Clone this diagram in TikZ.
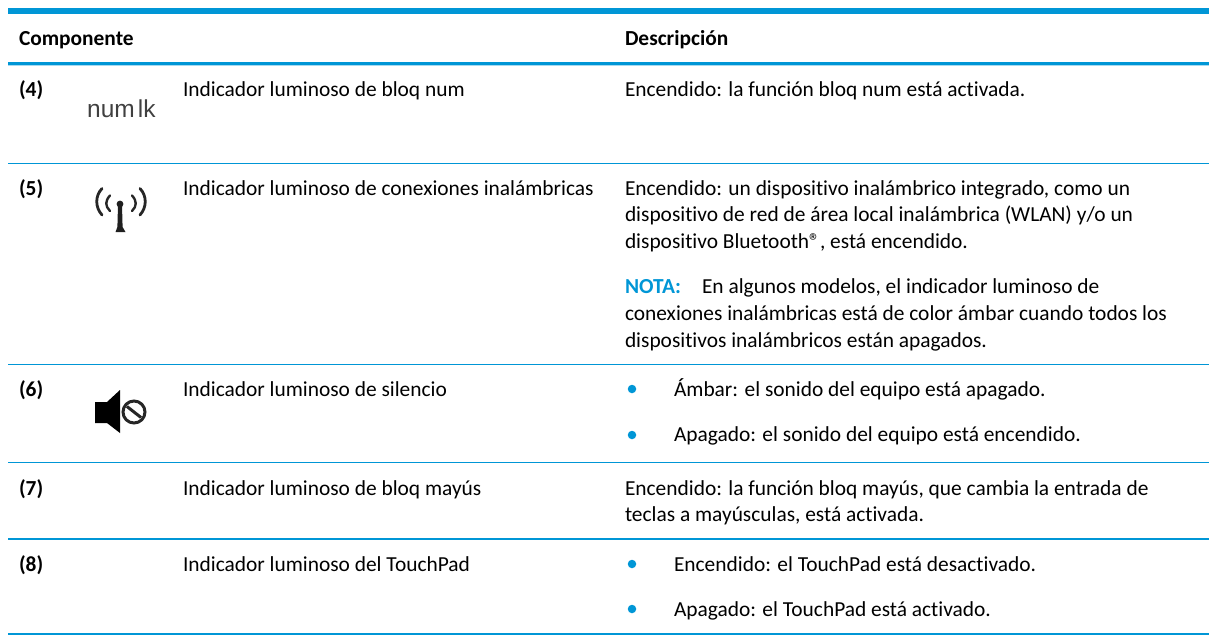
\documentclass[tikz,border=0pt]{standalone}
\usepackage{fontspec}
\setmainfont[Ligatures={NoCommon}]{Carlito}
\newfontfamily\iconfont{Liberation Sans}
\definecolor{hpblue}{HTML}{0096D6}
\tikzset{
  txt/.style={anchor=base west,inner sep=0pt,outer sep=0pt,font=\fontsize{21.4}{26.3}\selectfont,text=black},
  boldt/.style={anchor=base west,inner sep=0pt,outer sep=0pt,font=\fontsize{21.4}{26.3}\selectfont\bfseries,text=black},
  rule/.style={draw=hpblue,line width=1.2pt},
  bul/.style={circle,fill=hpblue,inner sep=0pt,minimum size=8.5pt},
  icoarc/.style={draw=black!85,line cap=round},
}
\begin{document}
\begin{tikzpicture}[x=1pt,y=-1pt]
\useasboundingbox (0,0) rectangle (1209,635);
\fill[hpblue] (8,8) rectangle (1209,14);
\fill[hpblue] (8,62) rectangle (1209,65);
\fill[hpblue!35] (8,65) rectangle (1209,66);
\draw[rule] (8,163.4) -- (1209,163.4);
\draw[rule] (8,364.4) -- (1209,364.4);
\draw[rule] (8,462.8) -- (1209,462.8);
\draw[rule] (8,539) -- (1209,539);
\draw[rule] (8,634) -- (1209,634);
\node[boldt] (hc) at (19,45) {Componente};
\node[boldt] (hd) at (625,45) {Descripción};
\node[boldt] (n4) at (19,96) {(4)};
\node[boldt] (n5) at (19,195) {(5)};
\node[boldt] (n6) at (19,396) {(6)};
\node[boldt] (n7) at (19,495) {(7)};
\node[boldt] (n8) at (19,571) {(8)};
\node[txt] (c4) at (183,96) {Indicador luminoso de bloq num};
\node[txt] (c5) at (183,195) {Indicador luminoso de conexiones inalámbricas};
\node[txt] (c6) at (183,396) {Indicador luminoso de silencio};
\node[txt] (c7) at (183,495) {Indicador luminoso de bloq mayús};
\node[txt] (c8) at (183,571) {Indicador luminoso del TouchPad};
\node[txt] (d4) at (625,96) {Encendido: la función bloq num está activada.};
\node[txt] (d5a) at (625,195) {Encendido: un dispositivo inalámbrico integrado, como un};
\node[txt] (d5b) at (625,221) {dispositivo de red de área local inalámbrica (WLAN) y/o un};
\node[txt] (d5c) at (625,248) {dispositivo Bluetooth®, está encendido.};
\node[boldt,text=hpblue] (nota) at (625,293) {NOTA:};
\node[txt] (d5d) at (702,293) {En algunos modelos, el indicador luminoso de};
\node[txt] (d5e) at (625,320) {conexiones inalámbricas está de color ámbar cuando todos los};
\node[txt] (d5f) at (625,347) {dispositivos inalámbricos están apagados.};
\node[bul] (b1) at (632,389) {};
\node[txt] (d6a) at (674,396) {Ámbar: el sonido del equipo está apagado.};
\node[bul] (b2) at (632,435) {};
\node[txt] (d6b) at (674,441) {Apagado: el sonido del equipo está encendido.};
\node[txt] (d7a) at (625,495) {Encendido: la función bloq mayús, que cambia la entrada de};
\node[txt] (d7b) at (625,521) {teclas a mayúsculas, está activada.};
\node[bul] (b3) at (632,564) {};
\node[txt] (d8a) at (674,571) {Encendido: el TouchPad está desactivado.};
\node[bul] (b4) at (632,609) {};
\node[txt] (d8b) at (674,616) {Apagado: el TouchPad está activado.};
% num lk icon
\node[anchor=base west,inner sep=0pt,font=\iconfont\fontsize{24.5}{24.5}\selectfont,text=black!75] (ik) at (87,117.5) {num\hspace{3pt}lk};
% wireless icon
\fill[black!88] (120,204) circle (3.4);
\fill[black!88] (118,205) -- (122,205) -- (122.6,227) -- (125.5,232) -- (115.5,232) -- (117.4,227) -- cycle;
\draw[icoarc,line width=2.4pt] (110,195.5) .. controls (105,201) and (105,206) .. (110,211);
\draw[icoarc,line width=2.8pt] (102,188.5) .. controls (95,196) and (95,207) .. (102,215);
\draw[icoarc,line width=2.4pt] (132,195.5) .. controls (137,201) and (137,206) .. (132,211);
\draw[icoarc,line width=2.8pt] (140,188.5) .. controls (147,196) and (147,207) .. (140,215);
% mute icon
\fill[black] (95,402) -- (107,402) -- (120,390) -- (120,433) -- (107,423) -- (95,423) -- cycle;
\draw[black!85,line width=3pt] (134,412) circle (11);
\draw[black!85,line width=3pt] (127,406.5) -- (141,417.5);
\end{tikzpicture}
\end{document}
